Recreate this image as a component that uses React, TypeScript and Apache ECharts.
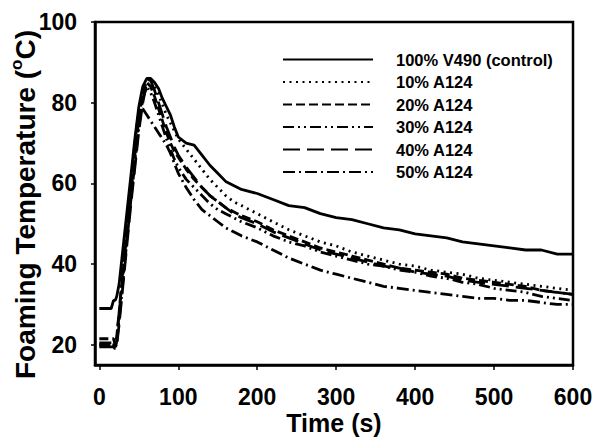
import React, { useEffect, useRef } from "react";
import * as echarts from "echarts";

const FONT = "'Liberation Sans', Arial, Helvetica, sans-serif";

const TIME = [0, 10, 15, 18, 20, 22, 25, 30, 35, 40, 45, 50, 55, 60, 65, 70, 75, 80, 85, 90, 95, 100, 110, 120, 130, 140, 150, 160, 170, 180, 200, 220, 240, 260, 280, 300, 320, 340, 360, 380, 400, 420, 440, 460, 480, 500, 520, 540, 560, 580, 600];

const CONTROL = [29, 29, 29, 31, 31, 32, 35, 44, 53, 62, 71, 79, 84, 86, 86, 85, 83.5, 81, 79, 77, 74, 71.5, 70, 69.5, 67, 64.5, 62.5, 60.5, 59.5, 58.5, 57.5, 56, 54.5, 54, 52.5, 51.5, 51, 50, 49, 48.5, 47.5, 47, 46.5, 45.5, 45, 44.5, 44, 43.5, 43.5, 42.5, 42.5];
const A10 = [20, 20, 20, 20, 19.5, 21, 27, 37, 47, 57, 66, 75, 82, 85.5, 86, 84, 82, 79.5, 77, 75, 73, 71, 68.5, 66, 63.5, 61, 59, 57, 55.5, 54.5, 52.5, 50.5, 48.5, 47, 45.5, 44.5, 43, 42, 41, 40, 39.5, 38.5, 38, 37.5, 36.5, 36, 35.5, 35, 34.5, 34, 33.5];
const A20 = [21.5, 21.5, 21.5, 21.5, 20, 22, 28, 38, 48, 58, 67, 76, 83, 85, 84, 81.5, 78.5, 75.5, 72.5, 70, 68, 66.5, 63.5, 61, 59, 57, 55.5, 54, 53, 52, 50.5, 48.5, 47, 45.5, 44, 43, 42, 41, 40, 39, 38.5, 38, 37.5, 36.5, 36, 35.5, 35, 34.5, 33.5, 33, 32.5];
const A30 = [20, 20, 20, 20, 19, 20.5, 26, 36, 46, 56, 65, 74, 81, 84, 82.5, 80, 77, 74, 71, 68.5, 66, 64, 61, 59, 57, 55, 53.5, 52.5, 51.5, 50.5, 49, 47, 45.5, 44.5, 43, 42, 41, 40, 39.5, 38.5, 38, 37, 36.5, 35.5, 35, 34, 33.5, 33, 32, 31.5, 31];
const A40 = [19.5, 19.5, 19.5, 19.5, 19, 20, 25, 35, 45, 55, 64, 73, 80, 85, 85.5, 83, 80, 77, 74, 71.5, 69, 67, 64, 61.5, 59, 57, 55.5, 54, 52.5, 51.5, 50, 48, 46.5, 45, 43.5, 42.5, 41.5, 40.5, 39.5, 39, 38, 37.5, 37, 36, 35.5, 35, 34.5, 34, 33.5, 33, 32.5];
const A50 = [20.5, 20.5, 20.5, 20.5, 19, 21, 28, 39, 50, 60, 70, 78, 78.5, 77, 75.5, 74, 72.5, 71, 69.5, 67.5, 65, 62.5, 59, 56, 53.5, 52, 50.5, 49, 48, 47, 45.5, 43.5, 41.5, 40, 38.5, 37.5, 36.5, 35.5, 34.5, 34, 33.5, 33, 32.5, 32, 31.5, 31.5, 31, 31, 30.5, 30, 30];

const SERIES_NAMES = ["100% V490 (control)", "10% A124", "20% A124", "30% A124", "40% A124", "50% A124"];
const SERIES_VALUES = [CONTROL, A10, A20, A30, A40, A50];
const DASHES: any[] = ["solid", [2, 4.5], [9, 4], [11, 4, 2, 4, 2, 4], [17, 7], [12, 4, 2, 4]];

const X_TICKS = [0, 100, 200, 300, 400, 500, 600];
const Y_TICKS = [20, 40, 60, 80, 100];

export default function App() {
  const ref = useRef<HTMLDivElement>(null);
  useEffect(() => {
    if (!ref.current) return;
    const chart = echarts.init(ref.current, undefined, { renderer: "svg" });
    const labelStyle = { fontSize: 23, fontWeight: "bold", color: "#000", fontFamily: FONT };
    chart.setOption({
      animation: false,
      backgroundColor: "#fff",
      grid: {
        left: 95, right: 21, top: 22, bottom: 74,
        outerBoundsMode: "none",
        containLabel: false,
        show: true, borderColor: "#000", borderWidth: 2.5, backgroundColor: "transparent",
      },
      legend: {
        orient: "vertical",
        left: 282,
        top: 51,
        padding: 0,
        itemWidth: 90,
        itemHeight: 14,
        itemGap: 5.5,
        selectedMode: false,
        data: SERIES_NAMES,
        itemStyle: { opacity: 0, borderWidth: 0 },
        textStyle: { fontSize: 16.5, fontWeight: "bold", color: "#000", fontFamily: FONT, lineHeight: 14, padding: [0, 0, 0, 18] },
      },
      xAxis: {
        type: "value",
        min: -5.5,
        max: 600,
        axisLine: { show: true, onZero: false, lineStyle: { color: "#000", width: 2.5 } },
        axisTick: { show: true, customValues: X_TICKS, length: 5, lineStyle: { color: "#000", width: 1.5 } },
        axisLabel: { ...labelStyle, customValues: X_TICKS, margin: 20 },
        splitLine: { show: false },
        name: "Time (s)",
        nameLocation: "middle",
        nameGap: 45,
        nameMoveOverlap: false,
        nameTextStyle: { fontSize: 25, fontWeight: "bold", color: "#000", fontFamily: FONT },
      },
      yAxis: {
        type: "value",
        min: 15,
        max: 100,
        axisLine: { show: true, onZero: false, lineStyle: { color: "#000", width: 2.5 } },
        axisTick: { show: true, customValues: Y_TICKS, length: 4, lineStyle: { color: "#000", width: 1.5 } },
        axisLabel: { ...labelStyle, customValues: Y_TICKS, margin: 18 },
        splitLine: { show: false },
        name: "{a|Foaming Temperature (}{s|o}{a|C)}",
        nameLocation: "middle",
        nameRotate: 90,
        nameGap: 53,
        nameMoveOverlap: false,
        nameTextStyle: {
          padding: [0, 22, 0, 0],
          rich: {
            a: { fontSize: 28, fontWeight: "bold", color: "#000", fontFamily: FONT, lineHeight: 34 },
            s: { fontSize: 17, fontWeight: "bold", color: "#000", fontFamily: FONT, lineHeight: 20, verticalAlign: "top" },
          },
        },
      },
      series: SERIES_NAMES.map((name, i) => ({
        name,
        type: "line",
        symbol: "none",
        showSymbol: false,
        color: "#000",
        data: TIME.map((t, j) => [t, SERIES_VALUES[i][j]]),
        lineStyle: { color: "#000", width: 2.8, type: DASHES[i], cap: "butt" },
      })),
    });
    return () => chart.dispose();
  }, []);
  return <div ref={ref} style={{ position: "absolute", left: 0, top: 0, width: 594, height: 439 }} />;
}
